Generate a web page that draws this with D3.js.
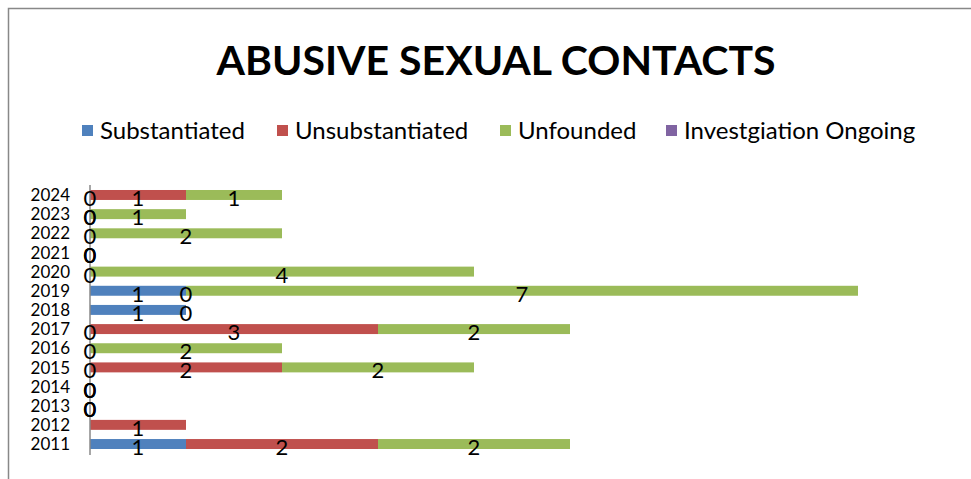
<!DOCTYPE html>
<html><head><meta charset="utf-8">
<script src="https://cdn.jsdelivr.net/npm/d3@7/dist/d3.min.js"></script>
<style>body{margin:0;background:#fff}svg{display:block}</style>
</head><body>
<script>
const years = ["2011","2012","2013","2014","2015","2016","2017","2018","2019","2020","2021","2022","2023","2024"];
const seriesNames = ["Substantiated","Unsubstantiated","Unfounded","Investgiation Ongoing"];
const substantiated   = [1, null, 0, 0, 0, 0, 0, 1, 1, 0, 0, 0, 0, 0];
const unsubstantiated = [2, 1, 0, 0, 2, null, 3, 0, 0, null, 0, null, 0, 1];
const unfounded       = [2, null, 0, 0, 2, 2, 2, null, 7, 4, 0, 2, 1, 1];
const ongoing         = [null, null, null, null, null, null, null, null, null, null, null, null, null, null];
const colors = ["#4F81BD","#C0504D","#9BBB59","#8064A2"];
const seriesVals = [substantiated, unsubstantiated, unfounded, ongoing];

const W = 971, H = 479;
const svg = d3.select("body").append("svg").attr("width", W).attr("height", H);
const font = "Lato, 'Open Sans', sans-serif";

svg.append("rect").attr("x", 8.5).attr("y", 8.5).attr("width", 1000).attr("height", 1000)
  .attr("fill", "#fff").attr("stroke", "#888").attr("stroke-width", 1.5);

svg.append("text").attr("x", 496).attr("y", 75).attr("text-anchor", "middle")
  .attr("font-family", font).attr("font-weight", 700).attr("font-size", 41)
  .text("ABUSIVE SEXUAL CONTACTS");

// legend
const legX = [82, 277, 500, 666];
const leg = svg.append("g");
seriesNames.forEach((n, i) => {
  leg.append("rect").attr("x", legX[i]).attr("y", 125).attr("width", 11).attr("height", 11).attr("fill", colors[i]);
  leg.append("text").attr("x", legX[i] + 18).attr("y", 139).attr("font-family", font).attr("font-size", 24)
    .attr("fill", "#000").text(n);
});

const x = d3.scaleLinear().domain([0, 8]).range([90, 858]);
const y = d3.scaleBand().domain(years.slice().reverse()).range([185.4, 453.6]).paddingInner(0.48).paddingOuter(0.24);

const data = years.map((yr, i) => {
  const o = {year: yr};
  seriesNames.forEach((n, k) => o[n] = seriesVals[k][i]);
  return o;
});
const stack = d3.stack().keys(seriesNames).value((d, k) => d[k] == null ? 0 : d[k]);
const stacked = stack(data);

stacked.forEach((s, k) => {
  const g = svg.append("g");
  g.selectAll("rect").data(s.filter(d => d.data[seriesNames[k]])).join("rect")
    .attr("x", d => x(d[0])).attr("width", d => x(d[1]) - x(d[0]))
    .attr("y", d => y(d.data.year)).attr("height", y.bandwidth())
    .attr("fill", colors[k]);
});

// axis
const yAxis = d3.axisLeft(y).tickSize(0).tickPadding(20);
const ag = svg.append("g").attr("transform", "translate(90,0)").call(yAxis);
ag.select(".domain").attr("stroke", "#888").attr("stroke-width", 1.5)
  .attr("d", `M0,${185}V${455}`);
ag.selectAll("text").attr("font-family", font).attr("font-size", 17).attr("fill", "#000").attr("dy", "0.36em");

// labels
stacked.forEach((s, k) => {
  svg.append("g").selectAll("text").data(s.filter(d => d.data[seriesNames[k]] != null)).join("text")
    .attr("x", d => x((d[0] + d[1]) / 2))
    .attr("y", d => y(d.data.year) + y.bandwidth() / 2 + 11)
    .attr("text-anchor", "middle")
    .attr("font-family", font).attr("font-size", 22).attr("fill", "#000")
    .text(d => d.data[seriesNames[k]]);
});
</script>
</body></html>
